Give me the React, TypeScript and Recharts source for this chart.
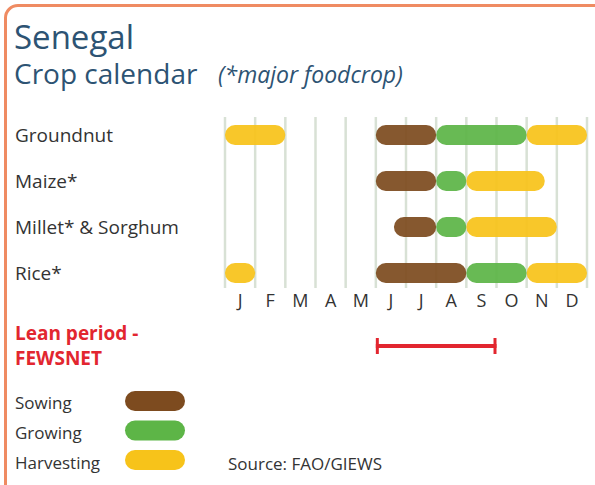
import { BarChart, Bar, XAxis, YAxis, CartesianGrid } from 'recharts';

const crops = ['Groundnut', 'Maize*', 'Millet* & Sorghum', 'Rice*'];
const monthLabels = ['J', 'F', 'M', 'A', 'M', 'J', 'J', 'A', 'S', 'O', 'N', 'D'];

// phases as [start, end] in months counted from 1 January
const harvestEarly = [[0, 2], null, null, [0, 1]];
const sowing = [[5, 7], [5, 7], [5.6, 7], [5, 8]];
const growing = [[7, 10], [7, 8], [7, 8], [8, 10]];
const harvestLate = [[10, 12], [8, 10.6], [8, 11], [10, 12]];
const leanPeriod = [5, 9];

const BROWN = '#7d4b1f';
const GREEN = '#5db547';
const YELLOW = '#f7c31a';
const RED = '#e2262f';
const TITLE = '#2d5373';
const TEXT = '#333333';
const FONT = '"Open Sans", sans-serif';

const WIDTH = 595;
const LEFT = 225;
const RIGHT = 8;
const monthWidth = (WIDTH - LEFT - RIGHT) / 12;

// month boundaries, used for the grid lines
const gridTicks = Array.from({ length: 13 }, (_, i) => i);

const data = crops.map((crop, i) => ({
  crop,
  harvestEarly: harvestEarly[i],
  sowing: sowing[i],
  growing: growing[i],
  harvestLate: harvestLate[i],
}));

const leanData = [{ name: 'lean', period: leanPeriod }];

const CropTick = (props: any) => (
  <text x={15} y={props.y} dy="0.36em" fontSize={19} fill={TEXT} fontFamily={FONT}>
    {props.payload.value}
  </text>
);

// label sits in the middle of each month, not on the boundary
const MonthTick = (props: any) => {
  const v = props.payload.value;
  if (v >= 12) return <g />;
  return (
    <text x={props.x + monthWidth / 2} y={307} textAnchor="middle" fontSize={18} fill={TEXT} fontFamily={FONT}>
      {monthLabels[v]}
    </text>
  );
};

// grid lines stop a little short of the plot edges, like the original
const GridLine = (props: any) => (
  <line
    key={props.key}
    x1={props.x1}
    x2={props.x2}
    y1={props.y1 + 5}
    y2={props.y2 - 8}
    stroke="#d8e1d5"
    strokeWidth={2.5}
  />
);

const LeanShape = (props: any) => {
  const { x, y, width, height } = props;
  const cy = y + height / 2;
  return (
    <g stroke={RED}>
      <line x1={x} x2={x + width} y1={cy} y2={cy} strokeWidth={4} />
      <line x1={x + 1.5} x2={x + 1.5} y1={y} y2={y + height} strokeWidth={3} />
      <line x1={x + width - 1.5} x2={x + width - 1.5} y1={y} y2={y + height} strokeWidth={3} />
    </g>
  );
};

const legendItems = [
  { label: 'Sowing', color: BROWN },
  { label: 'Growing', color: GREEN },
  { label: 'Harvesting', color: YELLOW },
];

export default function App() {
  return (
    <div style={{ position: 'absolute', left: 0, top: 0, width: 595, height: 485, overflow: 'hidden', background: '#fff', fontFamily: FONT }}>
      <div style={{ position: 'absolute', left: 4, top: 4, width: 700, height: 520, border: '3px solid #ef8b62', borderRadius: 14, boxSizing: 'border-box' }} />

      <div style={{ position: 'absolute', left: 0, top: 0 }}>
        <BarChart
          layout="vertical"
          width={WIDTH}
          height={320}
          data={data}
          margin={{ top: 112, right: RIGHT, bottom: 0, left: 0 }}
          barSize={20}
          barGap={-20}
        >
          <CartesianGrid horizontal={false} vertical={GridLine} />
          <XAxis
            type="number"
            domain={[0, 12]}
            ticks={gridTicks}
            interval={0}
            axisLine={false}
            tickLine={false}
            tickSize={0}
            height={24}
            tick={MonthTick}
          />
          <YAxis type="category" dataKey="crop" width={LEFT} axisLine={false} tickLine={false} tick={CropTick} />
          <Bar dataKey="harvestEarly" fill={YELLOW} fillOpacity={0.93} radius={10} isAnimationActive={false} />
          <Bar dataKey="sowing" fill={BROWN} fillOpacity={0.93} radius={10} isAnimationActive={false} />
          <Bar dataKey="growing" fill={GREEN} fillOpacity={0.93} radius={10} isAnimationActive={false} />
          <Bar dataKey="harvestLate" fill={YELLOW} fillOpacity={0.93} radius={10} isAnimationActive={false} />
        </BarChart>
      </div>

      <div style={{ position: 'absolute', left: 0, top: 316 }}>
        <BarChart
          layout="vertical"
          width={WIDTH}
          height={60}
          data={leanData}
          margin={{ top: 0, right: RIGHT, bottom: 0, left: LEFT }}
          barSize={16}
        >
          <XAxis type="number" domain={[0, 12]} hide />
          <YAxis type="category" dataKey="name" hide />
          <Bar dataKey="period" shape={LeanShape} isAnimationActive={false} />
        </BarChart>
      </div>

      <svg width={595} height={485} style={{ position: 'absolute', left: 0, top: 0, pointerEvents: 'none' }} fontFamily={FONT}>
        <text x={14} y={49} fontSize={33} fill={TITLE}>Senegal</text>
        <text x={14} y={84} fontSize={28} fill={TITLE}>Crop calendar</text>
        <text x={218} y={83} fontSize={23} fontStyle="italic" fill={TITLE}>(*major foodcrop)</text>

        <text x={15} y={340} fontSize={19} fontWeight="bold" fill={RED}>Lean period -</text>
        <text x={15} y={365} fontSize={19} fontWeight="bold" fill={RED}>FEWSNET</text>

        {legendItems.map((item, i) => (
          <g key={item.label}>
            <text x={15} y={409 + i * 30} fontSize={17} fill={TEXT}>{item.label}</text>
            <rect x={125} y={391 + i * 29.5} width={60} height={20} rx={10} fill={item.color} />
          </g>
        ))}
        <text x={228} y={470} fontSize={17} fill={TEXT}>Source: FAO/GIEWS</text>
      </svg>
    </div>
  );
}
